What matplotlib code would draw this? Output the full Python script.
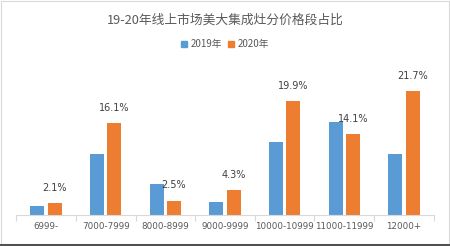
import numpy as np
import matplotlib.pyplot as plt
from matplotlib.lines import Line2D

plt.rcParams['font.family'] = ['Noto Sans CJK SC', 'DejaVu Sans']

# data
categories = ["6999-", "7000-7999", "8000-8999", "9000-9999",
              "10000-10999", "11000-11999", "12000+"]
share_2019 = [1.6, 10.7, 5.4, 2.2, 12.7, 16.3, 10.7]
share_2020 = [2.1, 16.1, 2.5, 4.3, 19.9, 14.1, 21.7]
labels_2020 = ["2.1%", "16.1%", "2.5%", "4.3%", "19.9%", "14.1%", "21.7%"]

blue = "#5B9BD5"
orange = "#ED7D31"
grey = "#595959"

fig = plt.figure(figsize=(4.5, 2.46), dpi=100)
ax = fig.add_axes([0.036, 0.126, 0.928, 0.581])

x = np.arange(len(categories))
w = 0.235
ax.bar(x - 0.145, share_2019, w, color=blue, label="2019年")
ax.bar(x + 0.145, share_2020, w, color=orange, label="2020年")

for xi, v, t in zip(x, share_2020, labels_2020):
    ax.annotate(t, (xi + 0.145, v), xytext=(0, 7.5), textcoords="offset points",
                ha="center", va="bottom", fontsize=7, color="#404040",
                family="DejaVu Sans")

ax.set_xlim(-0.5, len(categories) - 0.5)
ax.set_ylim(0, 25)
ax.set_yticks([])
for s in ["top", "right", "left"]:
    ax.spines[s].set_visible(False)
ax.spines["bottom"].set_color("#d9d9d9")
ax.spines["bottom"].set_linewidth(0.8)

# category labels at centres, separator ticks at boundaries
ax.set_xticks(x)
ax.set_xticklabels(categories, fontsize=6.3, color=grey, family="DejaVu Sans")
ax.tick_params(axis="x", which="major", length=0, pad=5)
ax.set_xticks(np.arange(len(categories) + 1) - 0.5, minor=True)
ax.tick_params(axis="x", which="minor", length=4, color="#d9d9d9", width=0.8)

fig.text(0.5, 0.918, "19-20年线上市场美大集成灶分价格段占比",
         ha="center", va="center", fontsize=9.2, color=grey)

handles = [Line2D([], [], marker="s", linestyle="", color=blue, markersize=4.5),
           Line2D([], [], marker="s", linestyle="", color=orange, markersize=4.5)]
fig.legend(handles, ["2019年", "2020年"], loc="center", bbox_to_anchor=(0.498, 0.82),
           ncol=2, frameon=False, fontsize=7, handletextpad=0.1,
           columnspacing=0.5, handlelength=1.0, labelcolor=grey)

# light frame around the chart area
fig.patches.append(plt.Rectangle((0.002, 0.01), 0.996, 0.985, transform=fig.transFigure,
                                 fill=False, edgecolor="#d9d9d9", linewidth=0.8))
fig.lines.append(Line2D([0, 1], [0.006, 0.006], transform=fig.transFigure,
                        color="#333333", linewidth=1.2))

fig.savefig("out.png", dpi=100)
